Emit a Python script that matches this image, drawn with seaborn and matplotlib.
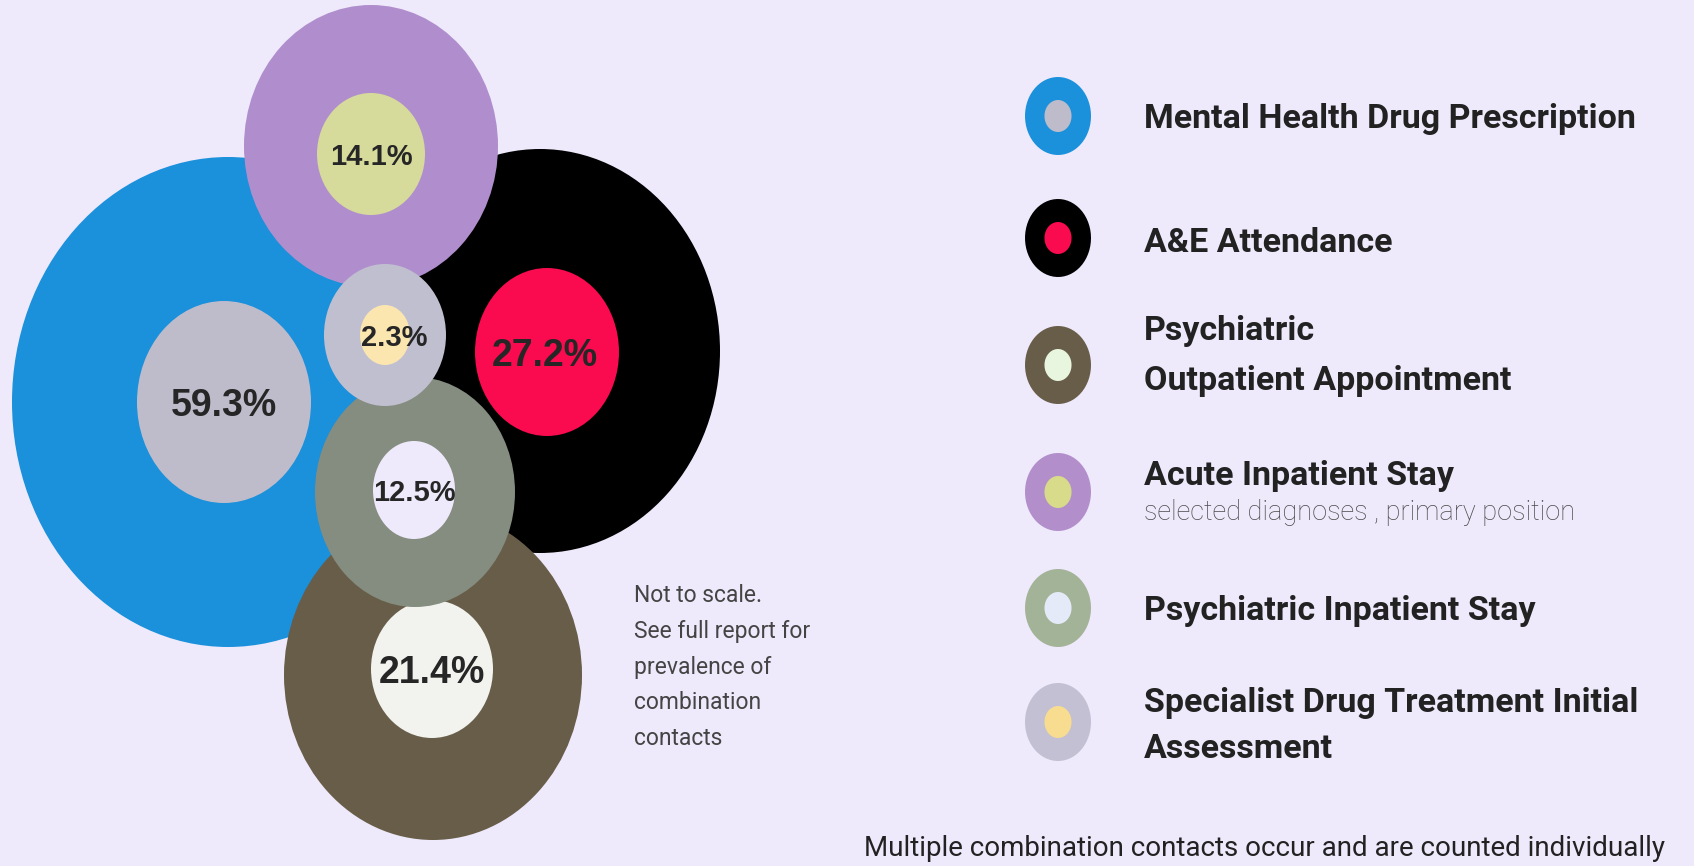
import numpy as np
import matplotlib
matplotlib.use('Agg')
import matplotlib.pyplot as plt
from matplotlib.patches import Ellipse
from matplotlib.path import Path
import seaborn as sns

# data
categories = ['Mental Health Drug Prescription', 'A&E Attendance',
              'Psychiatric Outpatient Appointment', 'Acute Inpatient Stay',
              'Psychiatric Inpatient Stay', 'Specialist Drug Treatment Initial Assessment']
percent = [59.3, 27.2, 21.4, 14.1, 12.5, 2.3]
outer_colors = ['#1b90db', '#000000', '#675d48', '#b08ecd', '#848d80', '#c0bfd0']
inner_colors = ['#bebccb', '#fa0a4e', '#f2f2ee', '#d6da9a', '#eeeafb', '#fbe6b0']
legend_outer = ['#1b90db', '#000000', '#675d48', '#b28ecb', '#a3b398', '#c2c0d2']
legend_inner = ['#bebccb', '#fa0a4e', '#e9f6df', '#d8dc8a', '#e4eaf8', '#f8dc90']
legend_lines = [['Mental Health Drug Prescription'], ['A&E Attendance'],
                ['Psychiatric', 'Outpatient Appointment'],
                ['Acute Inpatient Stay', 'selected diagnoses , primary position'],
                ['Psychiatric Inpatient Stay'],
                ['Specialist Drug Treatment Initial', 'Assessment']]
note = ['Not to scale.', 'See full report for', 'prevalence of', 'combination', 'contacts']
footer = 'Multiple combination contacts occur and are counted individually'

# layout (pixel space, the bubbles are not to scale)
cx = [228, 540, 433, 371, 415, 385]
cy = [402, 351, 675, 146, 492, 335]
rx = [216, 180, 149, 127, 100, 61]
ry = [245, 202, 165, 141, 115, 71]
icx = [224, 547, 432, 371, 414, 385]
icy = [402, 352, 669, 154, 490, 335]
irx = [87, 72, 61, 54, 41, 25]
iry = [101, 84, 69, 61, 49, 30]
label_size = [27, 27, 27, 21, 21, 21]
label_dx = [0, -2, 0, 0, 0, 9]
legend_y = [116, 238, 365, 492, 608, 722]
legend_base = [[128], [252], [340, 390], [485, 520], [620], [712, 758]]

sns.set_theme(style='white')
plt.rcParams['font.family'] = ['Roboto', 'DejaVu Sans']

bg = '#eeeafb'
fig = plt.figure(figsize=(16.94, 8.66), dpi=100, facecolor=bg)
ax = fig.add_axes([0, 0, 1, 1])
ax.set_facecolor(bg)
ax.set_xlim(0, 1694)
ax.set_ylim(866, 0)
ax.axis('off')

for i in range(len(categories)):
    ax.add_patch(Ellipse((cx[i], cy[i]), 2 * rx[i], 2 * ry[i], color=outer_colors[i], lw=0, zorder=2 + i * 2))
    ax.add_patch(Ellipse((icx[i], icy[i]), 2 * irx[i], 2 * iry[i], color=inner_colors[i], lw=0, zorder=3 + i * 2))
    ax.text(icx[i] + label_dx[i], icy[i], f'{percent[i]}%', ha='center', va='center_baseline',
            fontsize=label_size[i], fontweight='bold', color='#262626',
            family=['Liberation Sans', 'DejaVu Sans'], zorder=20)

# legend markers: slightly tall ellipses
t = np.linspace(0, 2 * np.pi, 60)
ell = Path(np.column_stack([0.846 * np.cos(t), np.sin(t)]), closed=True)
leg_x = [1058] * len(categories)
sns.scatterplot(x=leg_x, y=legend_y, hue=categories, palette=legend_outer, marker=ell,
                s=3154, linewidth=0, legend=False, ax=ax, zorder=5)
sns.scatterplot(x=leg_x, y=legend_y, hue=categories, palette=legend_inner, marker=ell,
                s=531, linewidth=0, legend=False, ax=ax, zorder=6)

for lines, bases in zip(legend_lines, legend_base):
    for line, b in zip(lines, bases):
        if line.startswith('selected'):
            ax.text(1144, b, line, fontsize=19.5, fontweight='light', color='#4a4a4a', va='baseline')
        else:
            ax.text(1144, b, line, fontsize=24.5, fontweight='bold', color='#222222', va='baseline')

for k, line in enumerate(note):
    ax.text(634, 602 + 35.8 * k, line, fontsize=16.5, color='#444444', va='baseline')

ax.text(864, 856, footer, fontsize=20, color='#222222', va='baseline')

fig.savefig('out.png', dpi=100, facecolor=bg)
